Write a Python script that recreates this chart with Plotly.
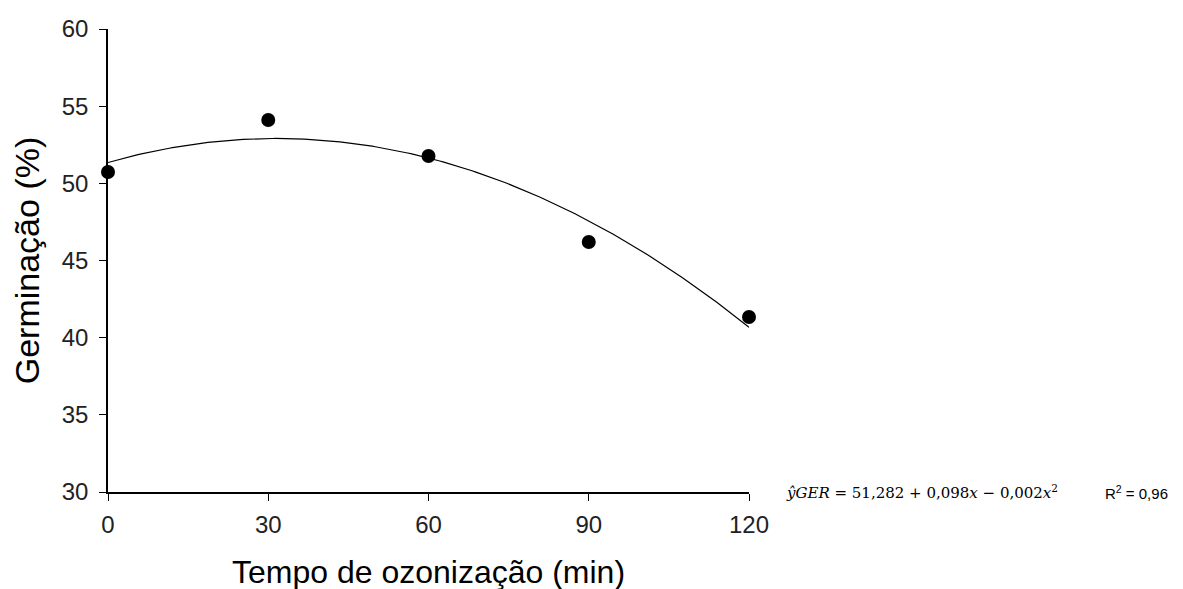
import numpy as np
import plotly.graph_objects as go

tempo = [0, 30, 60, 90, 120]
germinacao = [50.73, 54.1, 51.77, 46.2, 41.34]
x_ticks = [0, 30, 60, 90, 120]
y_ticks = [30, 35, 40, 45, 50, 55, 60]

coef = np.polyfit(tempo, germinacao, 2)
xs = np.linspace(0, 120, 200)
ys = np.polyval(coef, xs)

FONT = "Liberation Sans, Arial, sans-serif"

fig = go.Figure()
fig.add_trace(go.Scatter(x=xs, y=ys, mode="lines",
                         line=dict(color="black", width=1.2), showlegend=False,
                         hoverinfo="skip"))
fig.add_trace(go.Scatter(x=tempo, y=germinacao, mode="markers",
                         marker=dict(color="black", size=14), showlegend=False,
                         cliponaxis=False))

tick_font = dict(family=FONT, size=24, color="#222222")
fig.update_layout(
    width=1183, height=589,
    margin=dict(l=100, r=442, t=21, b=105, autoexpand=False),
    plot_bgcolor="white", paper_bgcolor="white",
    font=tick_font,
    xaxis=dict(range=[0, 120], tickvals=x_ticks, ticks="outside", ticklen=7,
               tickcolor="black", showline=True, linecolor="black", linewidth=1.6,
               showgrid=False, zeroline=False, tickfont=tick_font,
               ticklabelstandoff=3,
               title=dict(text="Tempo de ozonização (min)",
                          font=dict(family=FONT, size=32, color="black"),
                          standoff=24)),
    yaxis=dict(range=[30, 60], tickvals=y_ticks, ticks="outside", ticklen=7,
               tickcolor="black", showline=True, linecolor="black", linewidth=1.6,
               showgrid=False, zeroline=False, tickfont=tick_font,
               ticklabelstandoff=6,
               title=dict(text="Germinação (%)",
                          font=dict(family=FONT, size=34, color="black"),
                          standoff=12)),
)
fig.add_annotation(
    xref="paper", yref="paper", x=1.055, y=0.0, xanchor="left", yanchor="middle",
    text="<i>ŷGER</i> = 51,282 + 0,098<i>x</i> − 0,002<i>x</i><sup>2</sup>",
    showarrow=False, font=dict(family="DejaVu Serif, serif", size=15, color="black"))
fig.add_annotation(
    xref="paper", yref="paper", x=1.553, y=0.0, xanchor="left", yanchor="middle",
    text="R<sup>2</sup> = 0,96",
    showarrow=False, font=dict(family=FONT, size=15, color="black"))

fig.write_html("out.html")
